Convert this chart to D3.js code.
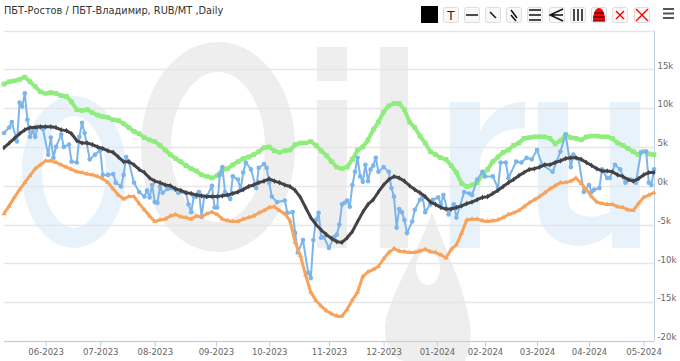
<!DOCTYPE html>
<html>
<head>
<meta charset="utf-8">
<script src="https://cdn.jsdelivr.net/npm/d3@7"></script>
<style>
html, body { margin: 0; padding: 0; background: #fff; }
svg { display: block; }
text { font-family: "DejaVu Sans", sans-serif; }
</style>
</head>
<body>
<div id="chart"></div>
<script>
var chartTitle = "ПБТ-Ростов / ПБТ-Владимир, RUB/MT ,Daily";

var tickLabels = ["06-2023", "07-2023", "08-2023", "09-2023", "10-2023", "11-2023", "12-2023", "01-2024", "02-2024", "03-2024", "04-2024", "05-2024"];
var tickSessions = [16, 37, 58, 81.5, 102, 125, 146, 166.5, 185, 205, 225, 246];
var yTicks = [-20, -15, -10, -5, 0, 5, 10, 15, 20];

// thousand RUB/MT, one value every second session
var greenValues = [13.1, 13.4, 13.5, 13.7, 14.0, 13.4, 12.8, 12.1, 11.9, 12.0, 11.9, 11.6, 11.5, 10.8, 9.8, 9.7, 9.8, 9.4, 9.1, 8.9, 8.8, 8.5, 8.4, 8.0, 7.5, 7.0, 6.7, 6.2, 5.9, 5.7, 5.2, 4.6, 4.0, 3.5, 3.1, 2.6, 2.2, 1.9, 1.4, 1.2, 1.0, 1.3, 2.1, 2.2, 2.7, 3.1, 3.5, 3.7, 4.0, 4.4, 4.9, 5.0, 4.5, 4.3, 4.5, 4.6, 5.3, 5.5, 5.5, 5.7, 5.2, 4.5, 3.9, 3.1, 2.4, 2.2, 2.4, 3.4, 4.6, 5.0, 5.9, 7.2, 8.2, 9.5, 10.3, 10.6, 10.6, 9.8, 8.2, 7.5, 6.4, 5.5, 4.4, 4.0, 3.6, 3.4, 2.6, 1.7, 0.3, -0.1, 0.1, 0.4, 1.4, 2.1, 3.1, 3.7, 4.3, 4.6, 5.2, 5.5, 6.1, 6.2, 6.3, 6.3, 6.3, 6.1, 5.4, 5.8, 6.6, 6.2, 6.1, 5.9, 6.3, 6.4, 6.4, 6.3, 6.3, 6.1, 5.5, 5.2, 4.8, 4.4, 4.0, 4.4, 4.1, 4.0];
var blackValues = [4.9, 5.5, 6.1, 6.7, 7.2, 7.5, 7.5, 7.6, 7.6, 7.6, 7.5, 7.2, 7.1, 6.7, 5.8, 5.5, 5.5, 5.3, 5.0, 4.8, 4.5, 4.3, 3.7, 3.1, 3.1, 2.7, 2.1, 1.7, 1.0, 0.6, 0.4, 0.1, 0, -0.4, -0.6, -0.9, -1.0, -1.2, -1.3, -1.4, -1.4, -1.4, -1.3, -1.2, -1.0, -0.8, -0.5, -0.1, 0.1, 0.4, 0.6, 0.9, 0.6, 0.4, 0.1, -0.1, -0.6, -1.5, -2.8, -4.1, -5.0, -5.7, -6.3, -6.8, -7.2, -7.3, -6.7, -5.9, -4.6, -3.4, -2.4, -1.8, -0.8, 0.1, 0.8, 1.2, 1.0, 0.6, 0, -0.5, -0.9, -1.4, -2.1, -2.4, -2.8, -3.0, -3.0, -2.8, -2.6, -2.3, -2.1, -1.8, -1.5, -1.4, -1.0, -0.6, -0.1, 0.4, 0.8, 1.3, 1.7, 2.1, 2.2, 2.4, 2.7, 2.7, 3.0, 3.2, 3.5, 3.6, 3.6, 3.4, 3.0, 2.6, 2.2, 1.9, 1.9, 1.8, 1.4, 1.2, 0.8, 0.6, 0.9, 1.4, 1.7, 1.7];
var orangeValues = [-3.6, -2.6, -1.5, -0.5, 0.4, 1.3, 2.2, 2.7, 3.2, 3.2, 3.0, 2.7, 2.4, 2.1, 1.8, 1.7, 1.5, 1.4, 1.2, 0.9, 0.4, -0.4, -1.2, -1.7, -1.4, -1.4, -2.3, -3.1, -3.9, -4.6, -4.4, -4.3, -3.9, -3.7, -4.0, -4.1, -4.3, -3.9, -4.0, -3.6, -3.4, -3.7, -4.3, -4.5, -4.6, -4.6, -4.3, -4.1, -3.9, -3.5, -3.2, -2.8, -2.7, -3.2, -3.6, -4.5, -7.3, -9.0, -11.5, -13.7, -14.8, -15.5, -16.1, -16.5, -16.8, -16.8, -15.9, -14.7, -13.7, -11.7, -11.1, -10.8, -10.4, -9.4, -8.6, -8.1, -8.4, -8.5, -8.6, -8.6, -8.4, -8.2, -8.5, -8.6, -8.9, -9.3, -8.2, -7.6, -6.1, -4.4, -4.3, -4.3, -4.5, -4.6, -4.5, -4.4, -4.1, -3.7, -3.5, -3.2, -2.7, -2.2, -1.8, -1.4, -0.9, -0.4, 0, 0.4, 0.4, 0.6, 1.0, 0.3, -0.5, -1.4, -2.1, -2.3, -2.4, -2.4, -2.7, -2.8, -3.1, -3.2, -2.3, -1.5, -1.2, -0.9];

// the spread itself, read at the sessions where it turns
var blueSessions = [0, 2, 3, 5, 6, 7, 8, 9, 10, 11, 12, 13, 15, 17, 18, 19, 20, 22, 23, 25, 26, 28, 29, 30, 31, 33, 35, 37, 38, 40, 42, 43, 45, 46, 47, 48, 50, 52, 54, 55, 56, 57, 58, 59, 60, 61, 63, 66, 67, 70, 71, 72, 73, 74, 75, 76, 77, 78, 80, 81, 82, 83, 84, 85, 87, 88, 90, 91, 92, 93, 95, 97, 98, 100, 101, 102, 103, 105, 108, 109, 111, 112, 113, 115, 117, 118, 119, 120, 121, 122, 123, 125, 127, 128, 129, 130, 131, 132, 133, 134, 135, 136, 137, 138, 139, 140, 141, 142, 143, 144, 146, 148, 149, 150, 151, 152, 153, 154, 155, 157, 158, 160, 161, 162, 164, 165, 167, 168, 169, 171, 173, 174, 177, 179, 180, 182, 184, 185, 188, 190, 191, 193, 194, 197, 199, 201, 203, 205, 207, 211, 214, 216, 218, 219, 221, 223, 225, 226, 227, 229, 230, 232, 233, 235, 237, 239, 241, 243, 245, 247, 248, 249, 250];
var blueValues = [6.8, 7.5, 8.2, 5.7, 10.7, 10.2, 11.9, 8.5, 6.3, 7.0, 6.3, 7.6, 7.3, 4.0, 6.2, 3.6, 5.0, 6.6, 5.0, 5.3, 3.1, 3.0, 6.3, 8.1, 6.8, 3.4, 4.0, 4.6, 1.4, 1.4, 1.5, 0.4, -0.1, 1.4, 3.7, 3.1, 0.4, -0.8, -1.4, -0.6, -1.5, 0.1, -2.1, -2.2, -0.1, -0.9, -0.4, -0.5, -0.9, -0.9, -2.4, -3.4, -1.4, -1.4, -0.8, -4.0, -1.4, -1.4, 0, -2.8, -2.8, 1.4, 2.4, -0.8, -1.7, 1.2, 0.8, -0.5, 1.7, 3.0, 2.1, -0.3, 2.3, 2.8, 2.3, 0.4, -1.4, -2.1, -1.9, -3.5, -3.4, -6.1, -8.6, -7.0, -11.2, -11.9, -7.0, -4.4, -3.5, -6.7, -6.6, -8.0, -6.6, -6.3, -5.0, -2.4, -2.2, -1.9, -2.7, 0.1, 1.8, 3.6, 1.2, 0.5, 2.7, 0.6, 2.1, 2.6, 3.6, 1.8, 2.4, 1.8, -0.3, -1.4, -5.4, -3.0, -3.4, -4.4, -6.1, -4.6, -3.1, -1.8, -1.5, -3.4, -2.4, -1.8, -1.5, -2.4, -1.2, -3.7, -2.4, -4.1, -0.8, -1.0, -1.2, 0.8, 1.8, 1.2, 1.2, -0.3, 3.0, 3.0, 1.0, 3.1, 3.0, 3.6, 3.4, 4.6, 2.7, 1.8, 4.4, 6.6, 2.4, 4.0, 3.4, -0.8, 0.1, -0.8, -0.5, -0.3, 2.1, 1.0, 1.0, 2.7, 2.1, 0.4, 0.8, 0.4, 4.3, 4.4, 0.4, 0.1, 2.1];

var width = 680;
var height = 361;

var svg = d3.select("#chart").append("svg")
    .attr("width", width)
    .attr("height", height);

// the reference is a soft screenshot
svg.append("defs").append("filter")
    .attr("id", "soft")
    .append("feGaussianBlur")
    .attr("stdDeviation", 0.35);

// oil.ru watermark behind the plot
var mark = svg.append("g").attr("class", "watermark");
var blueMark = "#e8f2fb";
var greyMark = "#eeeeee";

mark.append("ellipse").attr("cx", 74).attr("cy", 172).attr("rx", 42).attr("ry", 66)
    .attr("fill", "none").attr("stroke", blueMark).attr("stroke-width", 20);
mark.append("ellipse").attr("cx", 218).attr("cy", 147).attr("rx", 62).attr("ry", 90)
    .attr("fill", "none").attr("stroke", greyMark).attr("stroke-width", 30);
mark.append("rect").attr("x", 317).attr("y", 47).attr("width", 30).attr("height", 34).attr("fill", greyMark);
mark.append("rect").attr("x", 317).attr("y", 100).attr("width", 30).attr("height", 148).attr("fill", greyMark);
mark.append("rect").attr("x", 380).attr("y", 47).attr("width", 28).attr("height", 201).attr("fill", greyMark);
mark.append("path")
    .attr("d", "M432,212C420,250 385,300 385,330C385,350 398,361 405,361L465,361C470,350 472,340 470,325C466,290 445,250 432,212Z")
    .attr("fill", greyMark);
mark.append("ellipse").attr("cx", 428).attr("cy", 268).attr("rx", 12).attr("ry", 17).attr("fill", "#fff");
mark.append("rect").attr("x", 450).attr("y", 102).attr("width", 30).attr("height", 146).attr("fill", blueMark);
mark.append("path").attr("d", "M480,132C488,112 505,102 525,102L525,128C500,128 484,140 480,160Z").attr("fill", blueMark);
mark.append("path")
    .attr("d", "M538,102H568V200C568,215 590,222 610,212V102H640V248H612V232C590,256 538,250 538,205Z")
    .attr("fill", blueMark);

var x = d3.scaleLinear().domain([0, 250]).range([4, 654]);
var y = d3.scaleLinear().domain([-20, 20]).range([341, 30.5]);

// gridlines
svg.append("g").selectAll("line")
    .data(yTicks)
    .enter().append("line")
    .attr("x1", x(0))
    .attr("x2", x(250))
    .attr("y1", function(d) { return Math.round(y(d)) + 0.5; })
    .attr("y2", function(d) { return Math.round(y(d)) + 0.5; })
    .attr("stroke", "#e6e6e6")
    .attr("stroke-width", 1.4);

var yAxis = svg.append("g")
    .attr("transform", "translate(654.5, 0)")
    .call(d3.axisRight(y).tickValues(yTicks.slice(0, 8)).tickSize(0).tickFormat(function(d) { return d + "k"; }));
yAxis.select("path").attr("stroke", "#c0d0e0").attr("d", "M0," + y(20) + "V" + y(-20));
yAxis.selectAll("text")
    .attr("x", 3)
    .attr("dy", "-0.15em")
    .attr("fill", "#666666")
    .style("font-size", "8.5px");

var xAxis = svg.append("g")
    .attr("transform", "translate(0, 341.5)")
    .call(d3.axisBottom(x).tickValues(tickSessions).tickSize(5).tickFormat(function(d, i) { return tickLabels[i]; }));
xAxis.select("path").attr("stroke", "#c0d0e0").attr("d", "M" + x(0) + ",0H" + x(250));
xAxis.selectAll("line").attr("stroke", "#c0d0e0");
xAxis.selectAll("text")
    .attr("y", 7)
    .attr("fill", "#666666")
    .style("font-size", "8.5px");

var lineGen = d3.line()
    .x(function(d) { return x(d.session); })
    .y(function(d) { return y(d.value); });

var everySecond = function(values) {
    return values.map(function(v, i) { return { session: i * 2, value: v }; });
};

var drawSeries = function(name, points, color, symbol, size, lineWidth) {
    var g = svg.append("g").attr("class", name).attr("filter", "url(#soft)");
    g.append("path")
        .datum(points)
        .attr("d", lineGen)
        .attr("fill", "none")
        .attr("stroke", color)
        .attr("stroke-width", lineWidth)
        .attr("stroke-linejoin", "round");
    g.selectAll("path.marker")
        .data(points)
        .enter().append("path")
        .attr("class", "marker")
        .attr("d", d3.symbol().type(symbol).size(size))
        .attr("fill", color)
        .attr("transform", function(d) { return "translate(" + x(d.session) + "," + y(d.value) + ")"; });
};

var bluePoints = blueSessions.map(function(s, i) { return { session: s, value: blueValues[i] }; });

drawSeries("green", everySecond(greenValues), "#90ed7d", d3.symbolSquare, 22, 4);
drawSeries("blue", bluePoints, "#7cb5ec", d3.symbolCircle, 17, 2);
drawSeries("black", everySecond(blackValues), "#434348", d3.symbolDiamond, 9, 3);
drawSeries("orange", everySecond(orangeValues), "#f7a35c", d3.symbolTriangle, 11, 3);

// title
svg.append("text")
    .attr("x", 4)
    .attr("y", 14)
    .attr("fill", "#333333")
    .style("font-size", "9.8px")
    .text(chartTitle);

// toolbar
var buttonX = [443, 464, 485, 506, 527, 549, 570, 591, 612, 634];
var toolbar = svg.append("g").attr("class", "toolbar");

toolbar.append("rect").attr("x", 421).attr("y", 6).attr("width", 17).attr("height", 17).attr("fill", "#000");

toolbar.selectAll("rect.button")
    .data(buttonX)
    .enter().append("rect")
    .attr("class", "button")
    .attr("x", function(d) { return d + 0.5; })
    .attr("y", 7.5)
    .attr("width", 15)
    .attr("height", 15)
    .attr("rx", 2)
    .attr("fill", "#f8f8f8")
    .attr("stroke", "#dddddd");

toolbar.append("text").attr("x", 451).attr("y", 20).attr("text-anchor", "middle")
    .style("font-size", "12px").attr("fill", "#222").text("T");

var icon = function(d, color, w) {
    toolbar.append("path").attr("d", d).attr("fill", "none")
        .attr("stroke", color || "#111").attr("stroke-width", w || 1.5);
};
icon("M466,15H478");
icon("M490,12L496,18");
icon("M511,10L517,18M511,15L516,21");
icon("M529,10H541M529,15H541M529,20H541");
icon("M563,9L550,15L563,21M552,15H563", "#111", 1.4);
icon("M574,9V21M578,9V21M582,9V21");
toolbar.append("path").attr("d", "M593,21C593,12 596,8 599,8C602,8 605,12 605,21Z").attr("fill", "#f00");
icon("M594,13H604M593,17H605M593,21H605", "#111", 1);
icon("M616,11L624,19M624,11L616,19", "#f00", 1.4);
icon("M636,9L648,21M648,9L636,21", "#f00", 1.4);
icon("M663,9H674M663,13.5H674M663,18H674", "#555", 1.8);
</script>
</body>
</html>
